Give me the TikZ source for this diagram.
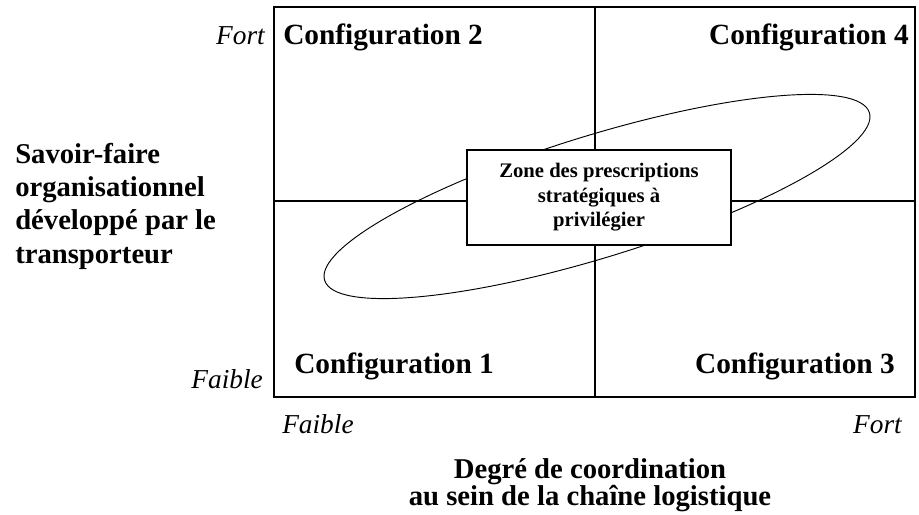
\documentclass[tikz,border=0pt]{standalone}
\usepackage{fontspec}
\setmainfont{Liberation Serif}
\usetikzlibrary{shapes.geometric}

\begin{document}
\begin{tikzpicture}[x=0.75pt,y=-0.75pt,
	quad/.style={font=\fontsize{22}{26}\selectfont\bfseries,inner sep=0},
	level/.style={font=\fontsize{20.5}{24}\selectfont\itshape,inner sep=0},
	axis/.style={font=\fontsize{21.5}{25}\selectfont\bfseries,inner sep=0},
	frame/.style={line width=1.5pt}]
	\useasboundingbox (0,0) rectangle (919,514);
	\coordinate (sw) at (274,396.5);
	\coordinate (ne) at (915,7);
	\coordinate (c) at (595,200.5);
	\draw[frame] (sw) rectangle (ne);
	\draw[frame] (c |- sw) -- (c |- ne);
	\draw[frame] (c -| sw) -- (c -| ne);
	\node[ellipse,draw,line width=0.7pt,inner sep=0,minimum width=427.5pt,minimum height=91.5pt,rotate=17.1] (zone) at (597,196.5) {};
	\node[draw,frame,fill=white,minimum width=198pt,minimum height=71.25pt,align=center,font=\fontsize{15.5}{18.4}\selectfont\bfseries] (presc) at (599,197.5) {Zone des prescriptions\\stratégiques à\\privilégier};
	\node[quad,anchor=base west] (conf2) at (283,44) {Configuration 2};
	\node[quad,anchor=base east] (conf4) at (909,44) {Configuration 4};
	\node[quad,anchor=base west] (conf1) at (294,373) {Configuration 1};
	\node[quad,anchor=base east] (conf3) at (895,373) {Configuration 3};
	\node[level,anchor=base east] (yfort) at (265,44) {Fort};
	\node[level,anchor=base east] (yfaible) at (263,388) {Faible};
	\node[level,anchor=base west] (xfaible) at (282,433) {Faible};
	\node[level,anchor=base east] (xfort) at (902,433) {Fort};
	\node[axis,align=left,anchor=west] (savoir) at (15,206) {Savoir-faire\\organisationnel\\développé par le\\transporteur};
	\node[axis,align=center,font=\fontsize{21.5}{20.5}\selectfont\bfseries] (degre) at (590,485) {Degré de coordination\\au sein de la chaîne logistique};
\end{tikzpicture}
\end{document}
